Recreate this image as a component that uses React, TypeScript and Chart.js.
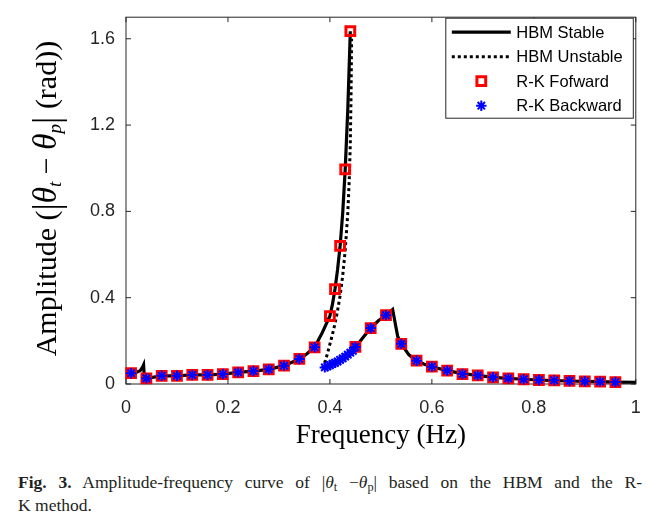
import React, { useEffect, useRef } from "react";
import { Chart, registerables } from "chart.js";

Chart.register(...registerables);

// ---- tick labels ----
const xTickValues = [0, 0.2, 0.4, 0.6, 0.8, 1];
const xTickLabels = ["0", "0.2", "0.4", "0.6", "0.8", "1"];
const yTickValues = [0, 0.4, 0.8, 1.2, 1.6];
const yTickLabels = ["0", "0.4", "0.8", "1.2", "1.6"];

// ---- series labels ----
const seriesLabels = ["HBM Stable", "HBM Unstable", "R-K Fofward", "R-K Backward"];

// ---- HBM stable (upper branch) ----
const stableUpperFreq = [0.01, 0.02, 0.028, 0.033, 0.0345, 0.036, 0.04, 0.07, 0.1, 0.13, 0.16, 0.19, 0.22, 0.25, 0.28, 0.31, 0.34, 0.355, 0.37, 0.385, 0.4, 0.405, 0.41, 0.415, 0.42, 0.425, 0.43, 0.435, 0.44];
const stableUpperAmp = [0.05, 0.053, 0.062, 0.08, 0.088, 0.03, 0.026, 0.038, 0.038, 0.042, 0.042, 0.046, 0.054, 0.06, 0.068, 0.085, 0.116, 0.14, 0.17, 0.238, 0.315, 0.37, 0.44, 0.53, 0.64, 0.79, 0.995, 1.27, 1.635];

// ---- HBM stable (lower branch) ----
const stableLowerFreq = [0.385, 0.39, 0.4, 0.41, 0.42, 0.43, 0.44, 0.45, 0.465, 0.48, 0.495, 0.51, 0.523, 0.533, 0.54, 0.555, 0.57, 0.585, 0.6, 0.63, 0.66, 0.69, 0.72, 0.75, 0.78, 0.81, 0.84, 0.87, 0.9, 0.93, 0.96, 1.0];
const stableLowerAmp = [0.072, 0.077, 0.088, 0.098, 0.112, 0.127, 0.145, 0.17, 0.215, 0.259, 0.293, 0.319, 0.345, 0.22, 0.186, 0.135, 0.108, 0.092, 0.08, 0.062, 0.048, 0.04, 0.031, 0.026, 0.022, 0.0185, 0.016, 0.014, 0.0125, 0.011, 0.009, 0.008];

// ---- HBM unstable ----
const unstableFreq = [0.385, 0.39, 0.395, 0.4, 0.405, 0.41, 0.415, 0.42, 0.425, 0.43, 0.435, 0.438, 0.44, 0.4415, 0.4425];
const unstableAmp = [0.072, 0.1, 0.14, 0.185, 0.23, 0.28, 0.34, 0.41, 0.5, 0.62, 0.79, 0.95, 1.12, 1.35, 1.6];

// ---- R-K forward sweep ----
const forwardFreq = [0.01, 0.04, 0.07, 0.1, 0.13, 0.16, 0.19, 0.22, 0.25, 0.28, 0.31, 0.34, 0.37, 0.4, 0.41, 0.42, 0.43, 0.44, 0.45, 0.48, 0.51, 0.54, 0.57, 0.6, 0.63, 0.66, 0.69, 0.72, 0.75, 0.78, 0.81, 0.84, 0.87, 0.9, 0.93, 0.96];
const forwardAmp = [0.05, 0.026, 0.038, 0.038, 0.042, 0.042, 0.046, 0.054, 0.06, 0.068, 0.085, 0.116, 0.17, 0.315, 0.44, 0.64, 0.995, 1.635, 0.172, 0.259, 0.319, 0.186, 0.108, 0.08, 0.062, 0.046, 0.04, 0.031, 0.026, 0.022, 0.0185, 0.017, 0.014, 0.0125, 0.011, 0.009];

// ---- R-K backward sweep ----
const backwardFreq = [0.01, 0.04, 0.07, 0.1, 0.13, 0.16, 0.19, 0.22, 0.25, 0.28, 0.31, 0.34, 0.37, 0.39, 0.395, 0.4, 0.405, 0.41, 0.415, 0.42, 0.425, 0.43, 0.435, 0.44, 0.445, 0.45, 0.48, 0.51, 0.54, 0.57, 0.6, 0.63, 0.66, 0.69, 0.72, 0.75, 0.78, 0.81, 0.84, 0.87, 0.9, 0.93, 0.96];
const backwardAmp = [0.05, 0.026, 0.038, 0.038, 0.042, 0.042, 0.046, 0.054, 0.06, 0.068, 0.085, 0.116, 0.17, 0.077, 0.082, 0.088, 0.093, 0.098, 0.104, 0.112, 0.119, 0.127, 0.136, 0.145, 0.154, 0.172, 0.259, 0.319, 0.186, 0.108, 0.08, 0.062, 0.046, 0.04, 0.031, 0.026, 0.022, 0.0185, 0.017, 0.014, 0.0125, 0.011, 0.009];

const SANS = 'Arial, "Liberation Sans", Helvetica, sans-serif';
const SERIF = '"Times New Roman", "Liberation Serif", serif';

const toPts = (xs: number[], ys: number[]) => xs.map((x, i) => ({ x, y: ys[i] }));

const zeroPadding = (s: any) => {
  s.paddingTop = 0;
  s.paddingBottom = 0;
  s.paddingLeft = 0;
  s.paddingRight = 0;
};

const axesPlugin = {
  id: "matlabAxes",
  beforeDatasetsDraw(chart: any) {
    const { ctx, chartArea: a, scales } = chart;
    ctx.save();
    ctx.strokeStyle = "#262626";
    ctx.lineWidth = 1;
    ctx.strokeRect(a.left, a.top, a.right - a.left, a.bottom - a.top);
    const tl = 5;
    ctx.beginPath();
    xTickValues.forEach((v) => {
      const px = scales.x.getPixelForValue(v);
      ctx.moveTo(px, a.bottom);
      ctx.lineTo(px, a.bottom - tl);
      ctx.moveTo(px, a.top);
      ctx.lineTo(px, a.top + tl);
    });
    yTickValues.forEach((v) => {
      const py = scales.y.getPixelForValue(v);
      ctx.moveTo(a.left, py);
      ctx.lineTo(a.left + tl, py);
      ctx.moveTo(a.right, py);
      ctx.lineTo(a.right - tl, py);
    });
    ctx.stroke();
    ctx.restore();
  },
};

const titlesPlugin = {
  id: "axisTitles",
  afterDraw(chart: any) {
    const { ctx, chartArea: a } = chart;
    ctx.save();
    ctx.fillStyle = "#000";
    // x title
    ctx.font = `27px ${SERIF}`;
    ctx.textAlign = "center";
    ctx.textBaseline = "alphabetic";
    ctx.fillText("Frequency (Hz)", (a.left + a.right) / 2, 435);
    // y title with math
    const parts = [
      { t: "Amplitude (", f: `30px ${SERIF}`, dy: 0 },
      { t: "|", f: `37px ${SERIF}`, dy: 3 },
      { t: "θ", f: `italic 33px ${SERIF}`, dy: 0 },
      { t: "t", f: `italic 19px ${SERIF}`, dy: 5 },
      { t: " − ", f: `30px ${SERIF}`, dy: 0 },
      { t: "θ", f: `italic 33px ${SERIF}`, dy: 0 },
      { t: "p", f: `italic 19px ${SERIF}`, dy: 5 },
      { t: "|", f: `37px ${SERIF}`, dy: 3 },
      { t: " (rad))", f: `30px ${SERIF}`, dy: 0 },
    ];
    let total = 0;
    const widths = parts.map((p) => {
      ctx.font = p.f;
      const w = ctx.measureText(p.t).width;
      total += w;
      return w;
    });
    ctx.translate(48, (a.top + a.bottom) / 2 - 2);
    ctx.rotate(-Math.PI / 2);
    ctx.textAlign = "left";
    let x = -total / 2;
    parts.forEach((p, i) => {
      ctx.font = p.f;
      ctx.fillText(p.t, x, p.dy);
      x += widths[i];
    });
    ctx.restore();
  },
};

const legendPlugin = {
  id: "boxLegend",
  afterDraw(chart: any) {
    const { ctx, chartArea: a } = chart;
    const ds = chart.data.datasets;
    const right = a.right - 2.5;
    const left = right - 187.5;
    const top = a.top + 1;
    const h = 100;
    ctx.save();
    ctx.fillStyle = "#fff";
    ctx.fillRect(left, top, right - left, h);
    ctx.strokeStyle = "#262626";
    ctx.lineWidth = 1;
    ctx.strokeRect(left, top, right - left, h);
    ds.forEach((d: any, i: number) => {
      const cy = top + 14 + i * 24.5;
      const x0 = left + 6;
      const x1 = left + 65;
      if (d.showLine) {
        ctx.save();
        ctx.strokeStyle = d.borderColor;
        ctx.lineWidth = d.borderWidth;
        ctx.setLineDash(d.borderDash || []);
        ctx.beginPath();
        ctx.moveTo(x0, cy);
        ctx.lineTo(x1, cy);
        ctx.stroke();
        ctx.restore();
      } else {
        const cx = (x0 + x1) / 2;
        const r = d.pointRadius;
        ctx.save();
        ctx.strokeStyle = d.pointBorderColor;
        ctx.lineWidth = d.pointBorderWidth;
        ctx.beginPath();
        if (d.pointStyle === "rect") {
          const s = Math.SQRT1_2 * r;
          ctx.rect(cx - s, cy - s, 2 * s, 2 * s);
        } else {
          ctx.moveTo(cx - r, cy);
          ctx.lineTo(cx + r, cy);
          ctx.moveTo(cx, cy - r);
          ctx.lineTo(cx, cy + r);
          const q = r * Math.SQRT1_2;
          ctx.moveTo(cx - q, cy - q);
          ctx.lineTo(cx + q, cy + q);
          ctx.moveTo(cx - q, cy + q);
          ctx.lineTo(cx + q, cy - q);
        }
        ctx.stroke();
        ctx.restore();
      }
      ctx.fillStyle = "#000";
      ctx.font = `16.5px ${SANS}`;
      ctx.textAlign = "left";
      ctx.textBaseline = "middle";
      ctx.fillText(d.label, left + 70.5, cy + 1);
    });
    ctx.restore();
  },
};

export default function App() {
  const canvasRef = useRef<HTMLCanvasElement | null>(null);

  useEffect(() => {
    if (!canvasRef.current) return;
    const stableData = [
      ...toPts(stableUpperFreq, stableUpperAmp),
      { x: null as any, y: null as any },
      ...toPts(stableLowerFreq, stableLowerAmp),
    ];
    const chart = new Chart(canvasRef.current, {
      type: "scatter",
      data: {
        datasets: [
          {
            label: seriesLabels[0],
            data: stableData,
            showLine: true,
            borderColor: "#000000",
            backgroundColor: "#000000",
            borderWidth: 3.2,
            pointRadius: 0,
            pointHoverRadius: 0,
            spanGaps: false,
            order: 2,
            clip: false,
          } as any,
          {
            label: seriesLabels[1],
            data: toPts(unstableFreq, unstableAmp),
            showLine: true,
            borderColor: "#000000",
            backgroundColor: "#000000",
            borderWidth: 3,
            borderDash: [3, 3],
            pointRadius: 0,
            pointHoverRadius: 0,
            order: 3,
            clip: false,
          } as any,
          {
            label: seriesLabels[2],
            data: toPts(forwardFreq, forwardAmp),
            showLine: false,
            pointStyle: "rect",
            pointRadius: 6.2,
            pointHoverRadius: 6.2,
            pointBorderColor: "#ff0000",
            pointBackgroundColor: "rgba(0,0,0,0)",
            pointBorderWidth: 3,
            borderColor: "#ff0000",
            backgroundColor: "rgba(0,0,0,0)",
            order: 1,
            clip: false,
          } as any,
          {
            label: seriesLabels[3],
            data: toPts(backwardFreq, backwardAmp),
            showLine: false,
            pointStyle: "star",
            pointRadius: 5.2,
            pointHoverRadius: 5.2,
            pointBorderColor: "#0000ff",
            pointBackgroundColor: "#0000ff",
            pointBorderWidth: 2,
            borderColor: "#0000ff",
            backgroundColor: "#0000ff",
            order: 0,
            clip: false,
          } as any,
        ],
      },
      options: {
        animation: false,
        responsive: true,
        maintainAspectRatio: false,
        events: [],
        layout: { padding: { top: 8, right: 8.5, left: 0, bottom: 0 } },
        plugins: {
          legend: { display: false },
          tooltip: { enabled: false },
        },
        scales: {
          x: {
            type: "linear",
            min: 0,
            max: 1,
            grid: { display: false, drawTicks: false },
            border: { display: false },
            ticks: {
              padding: 13,
              autoSkip: false,
              maxRotation: 0,
              color: "#262626",
              font: { family: SANS, size: 18 },
              callback: (_v: any, i: number) => xTickLabels[i],
            },
            afterBuildTicks: (s: any) => {
              s.ticks = xTickValues.map((v) => ({ value: v }));
            },
            afterFit: (s: any) => {
              s.height = 76;
              zeroPadding(s);
            },
          },
          y: {
            type: "linear",
            min: 0,
            max: 1.7,
            grid: { display: false, drawTicks: false },
            border: { display: false },
            ticks: {
              padding: 11,
              autoSkip: false,
              color: "#262626",
              font: { family: SANS, size: 18 },
              callback: (_v: any, i: number) => yTickLabels[i],
            },
            afterBuildTicks: (s: any) => {
              s.ticks = yTickValues.map((v) => ({ value: v }));
            },
            afterFit: (s: any) => {
              s.width = 118;
              zeroPadding(s);
            },
          },
        },
      } as any,
      plugins: [axesPlugin, legendPlugin, titlesPlugin],
    });
    return () => chart.destroy();
  }, []);

  return (
    <div>
      <div style={{ position: "relative", width: 637, height: 452 }}>
        <canvas ref={canvasRef} />
      </div>
      <div
        style={{
          width: 624,
          marginLeft: 10,
          marginTop: 11,
          fontFamily: SERIF,
          fontSize: 17.5,
          lineHeight: "23px",
          color: "#231f20",
        }}
      >
        <div style={{ textAlign: "justify", textAlignLast: "justify" as any }}>
          <b>Fig. 3.</b> Amplitude-frequency curve of{" "}
          <span>
            |<i>θ</i>
            <sub style={{ fontSize: "0.7em", verticalAlign: "-0.25em", lineHeight: 0 }}>t</sub>
            {" −"}
            <i>θ</i>
            <sub style={{ fontSize: "0.7em", verticalAlign: "-0.25em", lineHeight: 0 }}>p</sub>|
          </span>{" "}
          based on the HBM and the R-
        </div>
        <div>K method.</div>
      </div>
    </div>
  );
}
